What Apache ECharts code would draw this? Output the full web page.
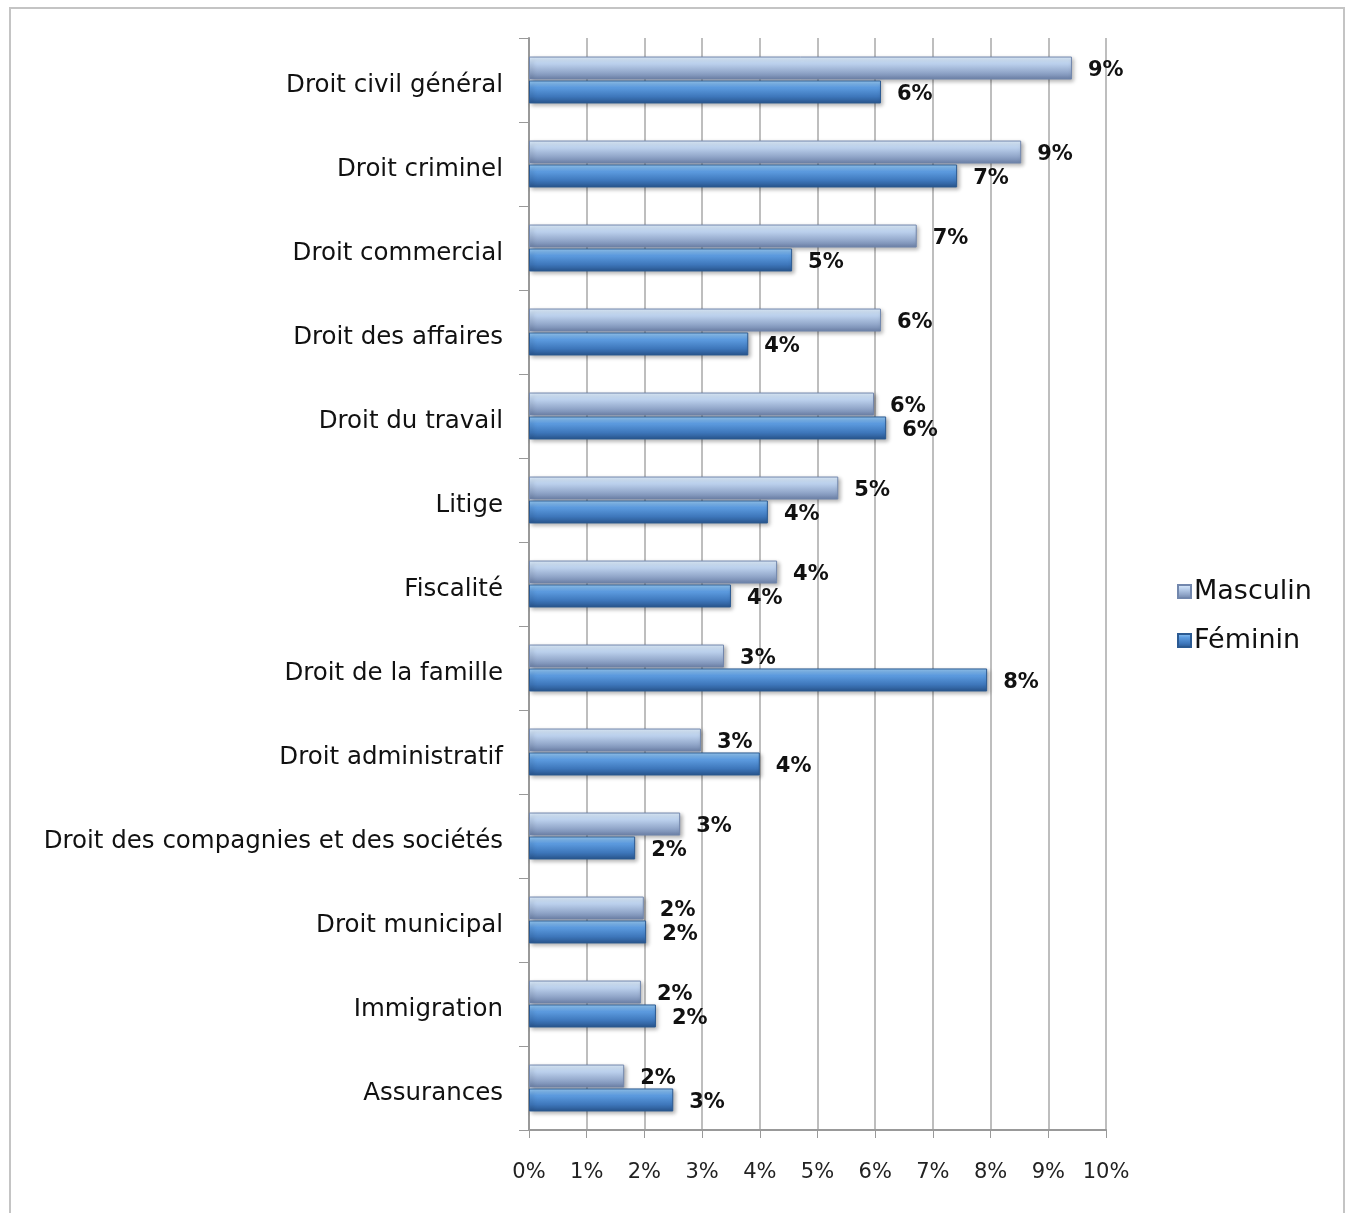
<!DOCTYPE html>
<html><head><meta charset="utf-8">
<script src="https://cdn.jsdelivr.net/npm/echarts@6/dist/echarts.min.js"></script>
<style>html,body{margin:0;padding:0;background:#fff}#c{width:1346px;height:1213px}</style>
</head><body><div id="c"></div>
<script>
const categories = ["Droit civil général","Droit criminel","Droit commercial","Droit des affaires","Droit du travail","Litige","Fiscalité","Droit de la famille","Droit administratif","Droit des compagnies et des sociétés","Droit municipal","Immigration","Assurances"];
const masculin = [9.41,8.53,6.72,6.1,5.98,5.36,4.3,3.38,2.98,2.62,1.99,1.94,1.65];
const feminin  = [6.1,7.42,4.56,3.8,6.19,4.14,3.5,7.94,4.0,1.84,2.03,2.2,2.5];
const xTicks = [0,1,2,3,4,5,6,7,8,9,10];

const font = "'DejaVu Sans', 'Liberation Sans', sans-serif";
const gradM = new echarts.graphic.LinearGradient(0,0,0,1,[
  {offset:0,color:'#e2f1ff'},{offset:0.3,color:'#bdd2ee'},{offset:0.7,color:'#91a6c9'},{offset:1,color:'#6b80a6'}]);
const gradF = new echarts.graphic.LinearGradient(0,0,0,1,[
  {offset:0,color:'#98caf4'},{offset:0.3,color:'#5d9ce0'},{offset:0.7,color:'#3e77bb'},{offset:1,color:'#28548c'}]);
const chart = echarts.init(document.getElementById('c'));
const lbl = {show:true,position:'right',distance:16,offset:[0,3],fontFamily:font,fontSize:21,fontWeight:'bold',color:'#111',
  formatter:p=>Math.round(p.value)+'%'};
chart.setOption({
  animation:false,
  graphic:[{type:'rect',shape:{x:10,y:8,width:1334,height:1220},style:{fill:'none',stroke:'#c4c4c4',lineWidth:2},z:-1}],
  grid:{left:529,right:240,top:38,bottom:83},
  legend:{orient:'vertical',left:1172,top:573,itemGap:22,itemWidth:13,itemHeight:13,icon:'rect',
    textStyle:{fontFamily:font,fontSize:27,color:'#111',padding:[0,0,0,-2]},
    data:['Masculin','Féminin']},
  xAxis:{type:'value',min:0,max:10,interval:1,
    axisLine:{show:true,lineStyle:{color:'#999',width:2}},
    axisTick:{show:true,length:8,lineStyle:{color:'#999'}},
    axisLabel:{fontFamily:font,fontSize:21,color:'#222',margin:32,formatter:v=>xTicks.includes(v)?v+'%':''},
    splitLine:{show:true,lineStyle:{color:'#a8a8a8',width:1.5}}},
  yAxis:{type:'category',data:categories,inverse:true,
    axisLine:{show:true,lineStyle:{color:'#999',width:2}},
    axisTick:{show:true,length:10,lineStyle:{color:'#999'}},
    axisLabel:{fontFamily:font,fontSize:24.5,color:'#111',margin:26,
      formatter:v=>'{a|'+v+'}',
      rich:{a:{fontFamily:font,fontSize:24.5,color:'#111',padding:[12,0,0,0]}}}},
  series:[
    {name:'Masculin',type:'bar',data:masculin,barWidth:23,barGap:'4%',
      itemStyle:{color:gradM,borderColor:'#7287ad',borderWidth:1,shadowColor:'rgba(0,0,0,0.3)',shadowBlur:4,shadowOffsetX:2,shadowOffsetY:2},label:lbl},
    {name:'Féminin',type:'bar',data:feminin,barWidth:23,
      itemStyle:{color:gradF,borderColor:'#2b5a92',borderWidth:1,shadowColor:'rgba(0,0,0,0.3)',shadowBlur:4,shadowOffsetX:2,shadowOffsetY:2},label:lbl}
  ]
});
</script></body></html>
